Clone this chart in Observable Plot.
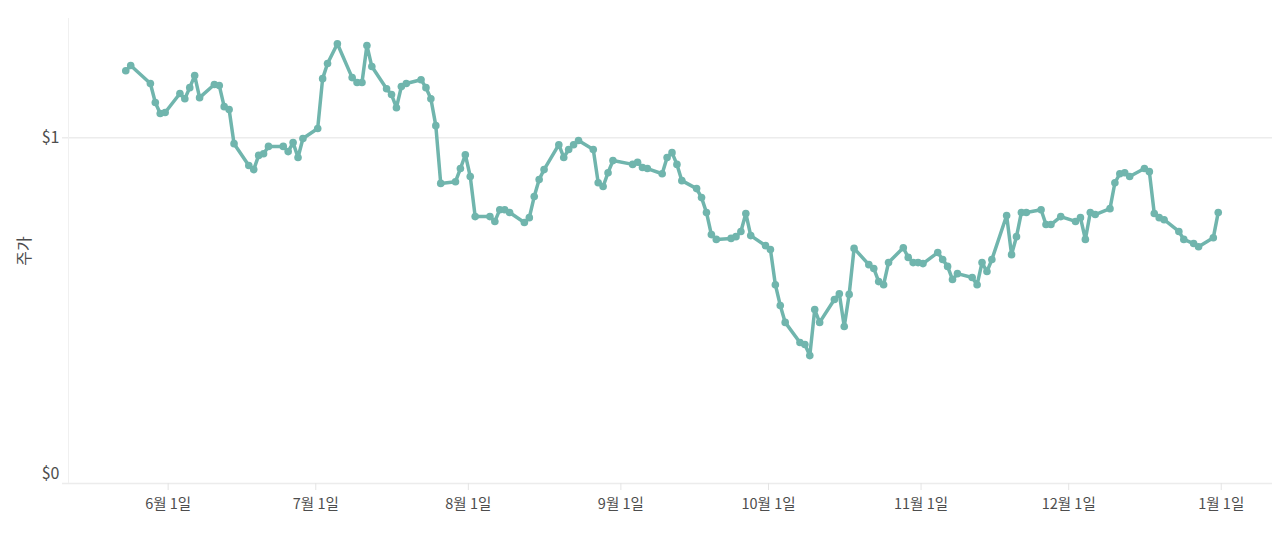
<!DOCTYPE html>
<html>
<head>
<meta charset="utf-8">
<script src="https://cdn.jsdelivr.net/npm/d3@7"></script>
<script src="https://cdn.jsdelivr.net/npm/@observablehq/plot@0.6"></script>
<style>
  html, body { margin: 0; padding: 0; background: #fff; }
  #chart { width: 1280px; height: 533px; }
</style>
</head>
<body>
<div id="chart"></div>
<script>
const dates = [
  "2018-05-24","2018-05-25","2018-05-29","2018-05-30","2018-05-31","2018-06-01",
  "2018-06-04","2018-06-05","2018-06-06","2018-06-07","2018-06-08",
  "2018-06-11","2018-06-12","2018-06-13","2018-06-14","2018-06-15",
  "2018-06-18","2018-06-19","2018-06-20","2018-06-21","2018-06-22",
  "2018-06-25","2018-06-26","2018-06-27","2018-06-28","2018-06-29",
  "2018-07-02","2018-07-03","2018-07-04","2018-07-06",
  "2018-07-09","2018-07-10","2018-07-11","2018-07-12","2018-07-13",
  "2018-07-16","2018-07-17","2018-07-18","2018-07-19","2018-07-20",
  "2018-07-23","2018-07-24","2018-07-25","2018-07-26","2018-07-27",
  "2018-07-30","2018-07-31","2018-08-01","2018-08-02","2018-08-03",
  "2018-08-06","2018-08-07","2018-08-08","2018-08-09","2018-08-10",
  "2018-08-13","2018-08-14","2018-08-15","2018-08-16","2018-08-17",
  "2018-08-20","2018-08-21","2018-08-22","2018-08-23","2018-08-24",
  "2018-08-27","2018-08-28","2018-08-29","2018-08-30","2018-08-31",
  "2018-09-04","2018-09-05","2018-09-06","2018-09-07",
  "2018-09-10","2018-09-11","2018-09-12","2018-09-13","2018-09-14",
  "2018-09-17","2018-09-18","2018-09-19","2018-09-20","2018-09-21",
  "2018-09-24","2018-09-25","2018-09-26","2018-09-27","2018-09-28",
  "2018-10-01","2018-10-02","2018-10-03","2018-10-04","2018-10-05",
  "2018-10-08","2018-10-09","2018-10-10","2018-10-11","2018-10-12",
  "2018-10-15","2018-10-16","2018-10-17","2018-10-18","2018-10-19",
  "2018-10-22","2018-10-23","2018-10-24","2018-10-25","2018-10-26",
  "2018-10-29","2018-10-30","2018-10-31","2018-11-01","2018-11-02",
  "2018-11-05","2018-11-06","2018-11-07","2018-11-08","2018-11-09",
  "2018-11-12","2018-11-13","2018-11-14","2018-11-15","2018-11-16",
  "2018-11-19","2018-11-20","2018-11-21","2018-11-22","2018-11-23",
  "2018-11-26","2018-11-27","2018-11-28","2018-11-30",
  "2018-12-03","2018-12-04","2018-12-05","2018-12-06","2018-12-07",
  "2018-12-10","2018-12-11","2018-12-12","2018-12-13","2018-12-14",
  "2018-12-17","2018-12-18","2018-12-19","2018-12-20","2018-12-21",
  "2018-12-24","2018-12-25","2018-12-27","2018-12-28","2018-12-31","2019-01-01"
];

const prices = [
  1.194,1.209,1.157,1.102,1.070,1.073,
  1.128,1.113,1.145,1.180,1.116,
  1.154,1.151,1.090,1.082,0.983,
  0.920,0.908,0.949,0.954,0.975,
  0.975,0.960,0.986,0.943,0.998,
  1.027,1.171,1.215,1.272,
  1.174,1.160,1.160,1.267,1.206,
  1.142,1.125,1.087,1.148,1.157,
  1.168,1.145,1.113,1.035,0.868,
  0.873,0.911,0.951,0.888,0.772,
  0.772,0.758,0.792,0.792,0.784,
  0.755,0.769,0.830,0.879,0.908,
  0.980,0.943,0.966,0.980,0.992,
  0.966,0.870,0.859,0.899,0.934,
  0.923,0.929,0.914,0.911,
  0.896,0.943,0.957,0.923,0.876,
  0.853,0.827,0.784,0.720,0.706,
  0.709,0.714,0.729,0.781,0.717,
  0.688,0.677,0.575,0.515,0.466,
  0.408,0.402,0.370,0.503,0.466,
  0.532,0.549,0.454,0.547,0.680,
  0.633,0.622,0.584,0.575,0.639,
  0.682,0.654,0.639,0.639,0.636,
  0.668,0.648,0.628,0.590,0.607,
  0.596,0.575,0.639,0.613,0.648,
  0.775,0.662,0.714,0.784,0.784,
  0.792,0.749,0.749,0.772,
  0.758,0.769,0.706,0.784,0.778,
  0.795,0.870,0.896,0.899,0.888,
  0.911,0.902,0.781,0.769,0.763,
  0.729,0.706,0.694,0.685,0.711,0.784
];

const xDomain = ["2018-05-11T18:00:00Z", "2019-01-11T10:00:00Z"];
const xTicks = ["2018-06-01","2018-07-01","2018-08-01","2018-09-01","2018-10-01","2018-11-01","2018-12-01","2019-01-01"];
const xTickLabels = ["6월 1일","7월 1일","8월 1일","9월 1일","10월 1일","11월 1일","12월 1일","1월 1일"];
const yDomain = [0, 1.345];
const yTicks = [0, 1];
const yTickLabels = ["$0", "$1"];
const yTitle = "주가";

const data = dates.map((d, i) => ({date: new Date(d + "T00:00:00Z"), price: prices[i]}));
const xTickDates = xTicks.map(d => new Date(d + "T00:00:00Z"));
const xLabelMap = new Map(xTickDates.map((d, i) => [+d, xTickLabels[i]]));
const yLabelMap = new Map(yTicks.map((v, i) => [v, yTickLabels[i]]));
const domainDates = xDomain.map(d => new Date(d));

const color = "#70b5ad";
const textColor = "#4d4d4d";

const chart = Plot.plot({
  width: 1280,
  height: 533,
  marginLeft: 68,
  marginRight: 8,
  marginTop: 18,
  marginBottom: 50,
  style: {
    fontFamily: "'Noto Sans CJK KR', 'Noto Sans', sans-serif",
    fontSize: "14px",
    color: textColor,
    background: "#ffffff"
  },
  x: {type: "utc", domain: domainDates},
  y: {domain: yDomain},
  marks: [
    Plot.ruleY(yTicks, {stroke: "#ececec", strokeWidth: 1.5, insetLeft: -6}),
    Plot.ruleX([domainDates[0]], {stroke: "#f0f0f0", strokeWidth: 1}),
    Plot.axisX(xTickDates, {
      tickFormat: d => xLabelMap.get(+d),
      tickSize: 7,
      tickPadding: 8,
      stroke: "#e4e4e4",
      fill: textColor,
      fontSize: 14.5,
      label: null
    }),
    Plot.axisY([yTicks[1]], {
      tickFormat: v => yLabelMap.get(v),
      tickSize: 0,
      tickPadding: 9,
      fill: textColor,
      fontSize: 16,
      label: yTitle,
      labelAnchor: "center",
      labelArrow: "none",
      labelOffset: 50
    }),
    Plot.axisY([yTicks[0]], {
      tickFormat: v => yLabelMap.get(v),
      tickSize: 0,
      tickPadding: 9,
      dy: -10,
      fill: textColor,
      fontSize: 16,
      label: null
    }),
    Plot.line(data, {x: "date", y: "price", dx: -3, stroke: color, strokeWidth: 3.5, strokeLinejoin: "round"}),
    Plot.dot(data, {x: "date", y: "price", dx: -3, fill: color, r: 3.8})
  ]
});

document.getElementById("chart").appendChild(chart);
</script>
</body>
</html>
